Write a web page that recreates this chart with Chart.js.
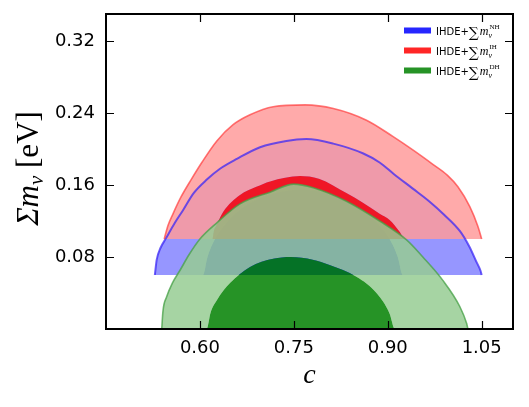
<!DOCTYPE html>
<html lang="en">
<head>
<meta charset="UTF-8">
<title>IHDE + soma das massas dos neutrinos</title>
<style>
  html, body { margin: 0; padding: 0; background: #fff; }
  .chart-container { position: relative; width: 529px; height: 407px; }
</style>
</head>
<body>
<div class="chart-container">
  <canvas id="grafico" width="529" height="407"></canvas>
</div>
<script src="https://cdn.jsdelivr.net/npm/chart.js"></script>
<script>
// ticks
const xTicks = [0.60, 0.75, 0.90, 1.05];
const yTicks = [0.08, 0.16, 0.24, 0.32];

// contornos [c, soma m_nu]
// NH (hierarquia normal), limite inferior 0.06
const nh95 = [[0.528,0.060],[0.531,0.077],[0.537,0.090],[0.546,0.101],[0.560,0.118],[0.573,0.132],[0.590,0.151],[0.611,0.166],[0.632,0.178],[0.659,0.189],[0.696,0.202],[0.738,0.209],[0.770,0.211],[0.813,0.206],[0.861,0.195],[0.887,0.185],[0.910,0.172],[0.940,0.156],[0.966,0.142],[0.990,0.127],[1.015,0.109],[1.030,0.092],[1.042,0.074],[1.048,0.065],[1.050,0.060]];
const nh68 = [[0.605,0.060],[0.612,0.080],[0.624,0.100],[0.645,0.120],[0.675,0.138],[0.720,0.151],[0.765,0.155],[0.810,0.149],[0.850,0.136],[0.880,0.120],[0.903,0.100],[0.916,0.080],[0.924,0.060]];
// IH (hierarquia invertida), limite inferior 0.10
const ih95 = [[0.543,0.100],[0.549,0.115],[0.557,0.128],[0.570,0.147],[0.586,0.166],[0.603,0.185],[0.627,0.209],[0.653,0.227],[0.680,0.238],[0.717,0.247],[0.768,0.249],[0.813,0.245],[0.866,0.232],[0.908,0.214],[0.940,0.199],[0.972,0.183],[0.995,0.171],[1.012,0.158],[1.031,0.136],[1.044,0.114],[1.050,0.100]];
const ih68 = [[0.620,0.100],[0.622,0.108],[0.627,0.116],[0.637,0.130],[0.664,0.149],[0.690,0.158],[0.712,0.164],[0.760,0.170],[0.790,0.167],[0.834,0.151],[0.861,0.140],[0.887,0.128],[0.903,0.121],[0.918,0.109],[0.928,0.100]];
// DH (degenerada), limite inferior 0
const dh95 = [[0.539,0.000],[0.541,0.020],[0.547,0.036],[0.556,0.051],[0.568,0.065],[0.583,0.083],[0.600,0.100],[0.627,0.118],[0.664,0.139],[0.712,0.152],[0.750,0.161],[0.781,0.157],[0.834,0.142],[0.887,0.120],[0.930,0.099],[0.956,0.080],[0.988,0.054],[1.015,0.025],[1.026,0.006],[1.028,0.000]];
const dh68 = [[0.611,0.000],[0.617,0.018],[0.627,0.032],[0.648,0.051],[0.680,0.069],[0.717,0.078],[0.745,0.080],[0.780,0.077],[0.807,0.071],[0.850,0.058],[0.882,0.040],[0.903,0.017],[0.911,0.000]];

const legenda = ['NH', 'IH', 'DH'];
const coresLegenda = ['rgba(0,0,255,0.85)', 'rgba(255,0,0,0.85)', 'rgba(0,128,0,0.85)'];

const pts = arr => arr.map(p => ({x: p[0], y: p[1]}));

// contorno interno estendido ate as pontas do externo (para preencher so o anel)
const interno = (ext, int, yPonta) =>
  [[ext[0][0], yPonta], ...int, [ext[ext.length - 1][0], yPonta]];

function preenchido(arr, alvo, cor, ordem) {
  return {
    data: pts(arr),
    fill: alvo,
    backgroundColor: cor,
    borderColor: 'rgba(0,0,0,0)',
    borderWidth: 0,
    pointRadius: 0,
    cubicInterpolationMode: 'monotone',
    order: ordem
  };
}

function linha(arr, cor, largura, ordem) {
  return {
    data: pts(arr),
    fill: false,
    borderColor: cor,
    borderWidth: largura,
    pointRadius: 0,
    cubicInterpolationMode: 'monotone',
    order: ordem
  };
}

// moldura e ticks para dentro, nos quatro lados
const moldura = {
  id: 'moldura',
  afterDatasetsDraw(chart) {
    const {ctx, chartArea: a, scales: {x, y}} = chart;
    ctx.save();
    ctx.strokeStyle = '#000';
    ctx.lineWidth = 1.2;
    ctx.beginPath();
    xTicks.forEach(v => {
      const px = Math.round(x.getPixelForValue(v)) + 0.5;
      ctx.moveTo(px, a.bottom); ctx.lineTo(px, a.bottom - 8);
      ctx.moveTo(px, a.top); ctx.lineTo(px, a.top + 8);
    });
    yTicks.forEach(v => {
      const py = Math.round(y.getPixelForValue(v)) + 0.5;
      ctx.moveTo(a.left, py); ctx.lineTo(a.left + 8, py);
      ctx.moveTo(a.right, py); ctx.lineTo(a.right - 8, py);
    });
    ctx.stroke();
    ctx.lineWidth = 2;
    ctx.strokeRect(a.left, a.top, a.right - a.left, a.bottom - a.top);
    ctx.restore();
  }
};

// titulos dos eixos e legenda (texto com indices)
const textos = {
  id: 'textos',
  afterDraw(chart) {
    const {ctx, chartArea: a} = chart;
    ctx.save();
    ctx.fillStyle = '#000';
    ctx.textBaseline = 'alphabetic';

    // eixo x
    ctx.font = 'italic 28px "Liberation Serif"';
    ctx.textAlign = 'center';
    ctx.fillText('c', (a.left + a.right) / 2, 383);

    // eixo y
    ctx.textAlign = 'left';
    const partes = [
      {t: 'Σ', f: 'italic 31px "Liberation Serif"', dy: 0},
      {t: 'm', f: 'italic 31px "Liberation Serif"', dy: 0},
      {t: 'ν', f: 'italic 21px "Liberation Serif"', dy: 5},
      {t: ' [eV]', f: '31px "Liberation Serif"', dy: 0}
    ];
    let total = 0;
    partes.forEach(p => { ctx.font = p.f; p.w = ctx.measureText(p.t).width; total += p.w; });
    ctx.translate(38, (a.top + a.bottom) / 2 - 3);
    ctx.rotate(-Math.PI / 2);
    let cx = -total / 2;
    partes.forEach(p => { ctx.font = p.f; ctx.fillText(p.t, cx, p.dy); cx += p.w; });
    ctx.setTransform(1, 0, 0, 1, 0, 0);

    // legenda
    legenda.forEach((nome, i) => {
      const cy = 30.5 + i * 20;
      ctx.fillStyle = coresLegenda[i];
      ctx.fillRect(404, cy - 3, 27, 6);
      ctx.fillStyle = '#000';
      let lx = 436;
      ctx.font = '10px "DejaVu Sans"';
      ctx.fillText('IHDE+', lx, cy + 4);
      lx += ctx.measureText('IHDE+').width;
      ctx.font = '14px "DejaVu Serif"';
      ctx.fillText('∑', lx, cy + 6);
      lx += ctx.measureText('∑').width + 1;
      ctx.font = 'italic 12px "Liberation Serif"';
      ctx.fillText('m', lx, cy + 4);
      lx += ctx.measureText('m').width;
      ctx.font = 'italic 8px "Liberation Serif"';
      ctx.fillText('ν', lx, cy + 7);
      ctx.font = '7px "Liberation Serif"';
      ctx.fillText(nome, lx + 1, cy - 2);
    });
    ctx.restore();
  }
};

new Chart(document.getElementById('grafico'), {
  type: 'line',
  data: {
    datasets: [
      linha(dh95, 'rgba(70,160,70,0.75)', 1.6, 1),                                   // 0
      linha(ih95, 'rgba(255,60,60,0.7)', 1.6, 2),                                    // 1
      linha(nh95, 'rgba(60,40,245,0.75)', 2, 3),                                     // 2
      preenchido(interno(dh95, dh68, -0.01), {value: 0}, 'rgba(0,128,0,0.85)', 5),   // 3
      preenchido(dh95, 3, 'rgba(150,204,147,0.85)', 6),                              // 4
      preenchido(interno(ih95, ih68, 0.10), {value: 0.10}, 'rgba(255,0,0,0.85)', 7), // 5
      preenchido(ih95, 5, 'rgba(255,155,155,0.85)', 8),                              // 6
      preenchido(interno(nh95, nh68, 0.06), {value: 0.06}, 'rgba(0,0,255,0.85)', 9), // 7
      preenchido(nh95, 7, 'rgba(132,132,255,0.85)', 10)                              // 8
    ]
  },
  options: {
    responsive: false,
    animation: false,
    devicePixelRatio: 1,
    layout: {padding: {left: 0, top: 14, right: 16, bottom: 0}},
    plugins: {legend: {display: false}, tooltip: {enabled: false}},
    scales: {
      x: {
        type: 'linear', min: 0.45, max: 1.10,
        afterBuildTicks: s => { s.ticks = xTicks.map(v => ({value: v})); },
        afterFit: s => { s.height = 78; s.paddingLeft = 0; s.paddingRight = 0; },
        grid: {display: false, drawTicks: false}, border: {display: false},
        ticks: {callback: v => v.toFixed(2), color: '#000', padding: 9, maxRotation: 0, autoSkip: false,
                font: {family: 'DejaVu Sans', size: 18}}
      },
      y: {
        type: 'linear', min: 0, max: 0.35,
        afterBuildTicks: s => { s.ticks = yTicks.map(v => ({value: v})); },
        afterFit: s => { s.width = 106; s.paddingTop = 0; s.paddingBottom = 0; },
        grid: {display: false, drawTicks: false}, border: {display: false},
        ticks: {callback: v => v.toFixed(2), color: '#000', padding: 11, autoSkip: false,
                font: {family: 'DejaVu Sans', size: 18}}
      }
    }
  },
  plugins: [moldura, textos]
});
</script>
</body>
</html>
